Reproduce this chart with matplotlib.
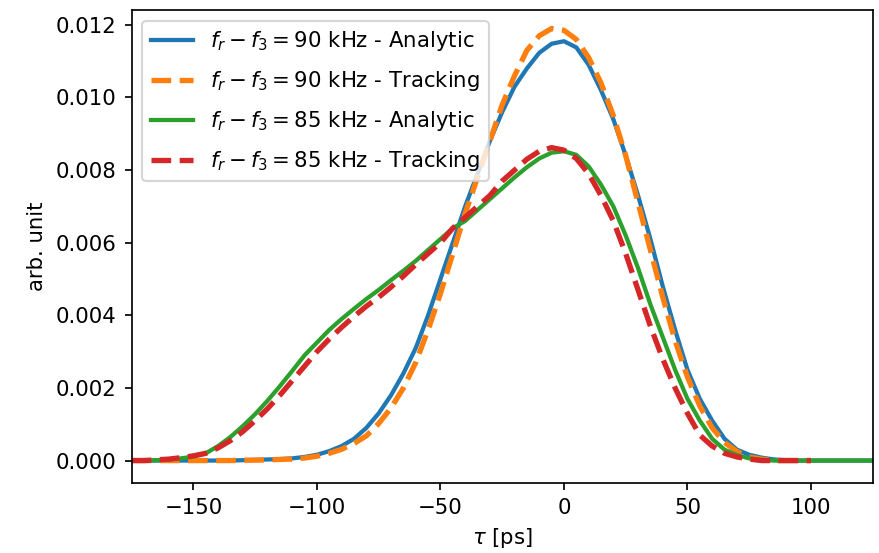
import matplotlib
matplotlib.use("Agg")
import matplotlib.pyplot as plt

# Time axis (ps) for the analytic profiles
tau_analytic = [-175, -170, -165, -160, -155, -150, -145, -140, -135, -130,
                -125, -120, -115, -110, -105, -100, -95, -90, -85, -80,
                -75, -70, -65, -60, -55, -50, -45, -40, -35, -30,
                -25, -20, -15, -10, -5, 0, 5, 10, 15, 20,
                25, 30, 35, 40, 45, 50, 55, 60, 65, 70,
                75, 80, 85, 90, 95, 100, 105, 110, 115, 120, 125]

# Time axis (ps) for the tracking profiles
tau_tracking = [-175, -170, -165, -160, -155, -150, -145, -140, -135, -130,
                -125, -120, -115, -110, -105, -100, -95, -90, -85, -80,
                -75, -70, -65, -60, -55, -50, -45, -40, -35, -30,
                -25, -20, -15, -10, -5, 0, 5, 10, 15, 20,
                25, 30, 35, 40, 45, 50, 55, 60, 65, 70,
                75, 80, 85, 90, 95, 100]

analytic_90 = [0, 0, 0, 0, 0, 0, 0, 0, 0, 0.00001,
               0.00002, 0.00003, 0.00004, 0.00006, 0.0001, 0.00016, 0.00026, 0.0004, 0.0006, 0.0009,
               0.0013, 0.0018, 0.0024, 0.0031, 0.0040, 0.0050, 0.0060, 0.0070, 0.0079, 0.0088,
               0.0096, 0.0103, 0.0108, 0.01123, 0.01148, 0.01155, 0.01138, 0.0109, 0.0102, 0.0094,
               0.0084, 0.0073, 0.0061, 0.0048, 0.0036, 0.0025, 0.0017, 0.0011, 0.0006, 0.0003,
               0.00016, 0.00008, 0.00003, 0.00001, 0, 0, 0, 0, 0, 0, 0]

tracking_90 = [0, 0, 0, 0, 0, 0, 0, 0, 0, 0.00001,
               0.00001, 0.00002, 0.00003, 0.00004, 0.00007, 0.00012, 0.0002, 0.00031, 0.00047, 0.00068,
               0.00102, 0.00145, 0.002, 0.0027, 0.0036, 0.0046, 0.0057, 0.0068, 0.0078, 0.0088,
               0.0098, 0.0106, 0.0113, 0.0117, 0.0119, 0.01185, 0.0116, 0.0111, 0.0104, 0.0095,
               0.0084, 0.0071, 0.0058, 0.0045, 0.0033, 0.0023, 0.0015, 0.0009, 0.0005, 0.00025,
               0.0001, 0.00004, 0, 0, 0, 0]

analytic_85 = [0, 0, 0.00001, 0.00003, 0.00006, 0.00011, 0.0002, 0.0004, 0.00065, 0.00095,
               0.00128, 0.00165, 0.00205, 0.00247, 0.0029, 0.00325, 0.0036, 0.0039, 0.00418, 0.00445,
               0.0047, 0.00497, 0.00523, 0.0055, 0.0058, 0.0061, 0.0064, 0.0066, 0.0069, 0.0072,
               0.0075, 0.0078, 0.00808, 0.00832, 0.00848, 0.00852, 0.00842, 0.0081, 0.0076, 0.0070,
               0.0062, 0.0053, 0.0043, 0.0034, 0.0025, 0.0017, 0.0011, 0.0006, 0.0003, 0.00015,
               0.00006, 0.00002, 0, 0, 0, 0, 0, 0, 0, 0, 0]

tracking_85 = [0, 0, 0.00002, 0.00004, 0.00008, 0.00013, 0.0002, 0.00035, 0.00055, 0.0008,
               0.0011, 0.00143, 0.0018, 0.0022, 0.0026, 0.003, 0.00335, 0.00367, 0.00397, 0.00425,
               0.0045, 0.00478, 0.00508, 0.0054, 0.0057, 0.0060, 0.0064, 0.0067, 0.0070, 0.0073,
               0.0077, 0.0080, 0.0083, 0.00852, 0.00862, 0.00855, 0.00832, 0.0079, 0.0073, 0.0066,
               0.0057, 0.0047, 0.0037, 0.0028, 0.0020, 0.0013, 0.0007, 0.0004, 0.0002, 0.0001,
               0.00004, 0, 0, 0, 0, 0]

labels = [r"$f_r - f_3 = 90$ kHz - Analytic",
          r"$f_r - f_3 = 90$ kHz - Tracking",
          r"$f_r - f_3 = 85$ kHz - Analytic",
          r"$f_r - f_3 = 85$ kHz - Tracking"]

W, H, DPI = 879, 553, 153
fig = plt.figure(figsize=(W / DPI, H / DPI), dpi=DPI)
ax = fig.add_axes([131.7 / W, 1 - 482.7 / H, (872.7 - 131.7) / W, (482.7 - 10) / H])

ax.plot(tau_analytic, analytic_90, color="C0", lw=2.0, label=labels[0])
ax.plot(tau_tracking, tracking_90, color="C1", lw=2.5, ls="--", label=labels[1])
ax.plot(tau_analytic, analytic_85, color="C2", lw=2.0, label=labels[2])
ax.plot(tau_tracking, tracking_85, color="C3", lw=2.5, ls="--", label=labels[3])

ax.set_xlim(-175, 125)
ax.set_ylim(-0.00061, 0.01241)
ax.set_xticks([-150, -100, -50, 0, 50, 100])
ax.set_yticks([0.0, 0.002, 0.004, 0.006, 0.008, 0.010, 0.012])
ax.set_xlabel(r"$\tau$ [ps]")
ax.set_ylabel("arb. unit")
ax.legend(loc="upper left", labelspacing=0.75)

fig.savefig("out.png", dpi=DPI)
